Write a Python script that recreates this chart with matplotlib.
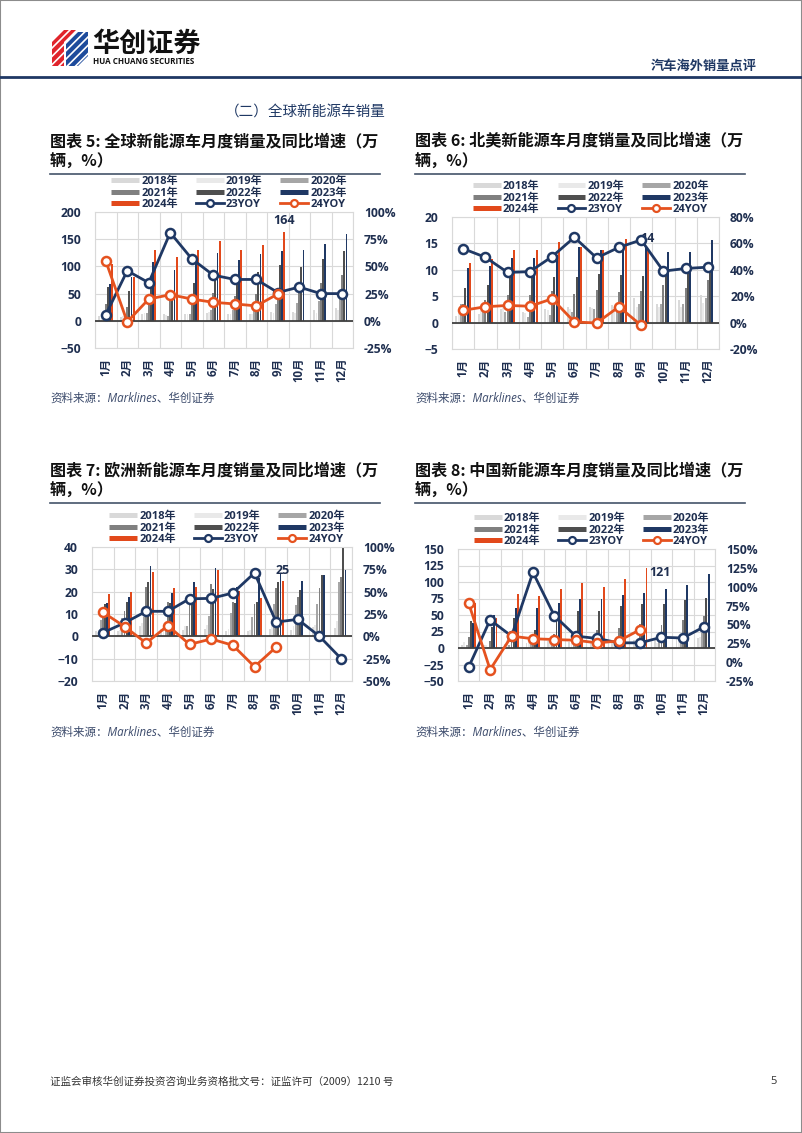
import numpy as np
import matplotlib.pyplot as plt
from matplotlib.lines import Line2D
from matplotlib.patches import Polygon, Rectangle

plt.rcParams['font.family'] = ['Open Sans', 'Noto Sans CJK SC', 'DejaVu Sans']
plt.rcParams['hatch.color'] = 'white'
plt.rcParams['hatch.linewidth'] = 1.2

# Data (万辆 and %)
months = ['1月', '2月', '3月', '4月', '5月', '6月', '7月', '8月', '9月', '10月', '11月', '12月']
years = ['2018年', '2019年', '2020年', '2021年', '2022年', '2023年', '2024年']

glb_sales = [
    [9, 7, 13, 12, 12, 14, 12, 13, 16, 16, 19, 23],
    [11, 8, 15, 10, 13, 17, 12, 13, 14, 14, 15, 20],
    [14, 10, 15, 9, 13, 19, 20, 22, 30, 32, 36, 47],
    [31, 26, 45, 38, 40, 52, 46, 50, 52, 62, 70, 84],
    [63, 55, 80, 52, 69, 87, 81, 89, 102, 99, 113, 128],
    [67, 80, 108, 94, 109, 124, 112, 123, 129, 130, 142, 160],
    [104, 80, 130, 117, 131, 146, 130, 140, 164],
]
glb_yoy23 = [5.5, 46, 35, 81, 57, 42, 38, 38, 26, 31, 25, 25]
glb_yoy24 = [55, -1, 20, 24, 20, 17, 15.5, 13.7, 24.6]

na_sales = [
    [1.2, 1.7, 2.6, 2.0, 2.6, 3.0, 3.0, 3.4, 4.6, 3.6, 4.2, 5.2],
    [2.0, 2.2, 2.9, 1.8, 2.4, 2.6, 2.7, 3.0, 3.0, 3.0, 3.0, 3.8],
    [3.6, 2.7, 2.0, 1.0, 1.5, 2.0, 2.6, 3.0, 3.6, 3.6, 3.6, 4.6],
    [3.6, 4.2, 5.3, 5.3, 6.0, 5.4, 6.2, 5.8, 6.0, 7.1, 6.6, 8.0],
    [6.6, 7.2, 8.8, 8.8, 8.6, 8.7, 9.2, 9.0, 8.8, 9.6, 9.5, 11.0],
    [10.3, 10.8, 12.2, 12.2, 12.8, 14.3, 13.7, 14.2, 14.2, 13.3, 13.4, 15.6],
    [11.2, 12.1, 13.8, 13.7, 15.2, 14.4, 13.7, 15.9, 14.0],
]
na_yoy23 = [56, 49.5, 38, 38.6, 50, 64.6, 49, 57, 62.6, 39, 41, 42]
na_yoy24 = [9.3, 12, 13, 12.4, 18, 0.5, -0.3, 12, -2]

eu_sales = [
    [2.5, 2.5, 4.5, 3.5, 3.0, 3.5, 2.5, 2.5, 3.5, 3.0, 4.0, 3.6],
    [3.0, 3.0, 6.0, 4.0, 4.5, 5.0, 3.5, 3.0, 5.0, 4.5, 5.0, 7.0],
    [7.5, 8.0, 8.5, 3.5, 4.5, 9.0, 10.5, 8.5, 14.5, 13.9, 14.5, 24.4],
    [12.5, 11.5, 22.0, 15.5, 15.0, 23.5, 15.5, 14.5, 21.8, 17.5, 21.5, 26.6],
    [14.3, 15.5, 24.3, 15.0, 17.2, 21.3, 15.0, 15.3, 24.4, 20.6, 27.4, 39.8],
    [15.0, 17.8, 31.3, 19.3, 24.5, 30.5, 22.3, 26.3, 28.1, 24.8, 27.4, 29.9],
    [19.0, 19.8, 29.0, 21.6, 22.3, 29.5, 20.2, 17.3, 24.7],
]
eu_yoy23 = [4, 15, 28, 28, 42, 42.5, 48.5, 71, 16, 19, 0, -25]
eu_yoy24 = [27, 11, -7.5, 12, -9, -3, -10, -34, -12]

cn_sales = [
    [4.0, 3.9, 6.8, 8.2, 10.2, 8.4, 8.4, 10.1, 12.1, 14.6, 17.0, 15.0],
    [9.6, 5.3, 12.6, 9.7, 10.4, 13.4, 8.0, 8.5, 8.0, 7.5, 9.5, 16.3],
    [4.4, 1.3, 5.3, 7.2, 8.2, 10.4, 9.8, 10.9, 13.8, 16.0, 20.0, 22.0],
    [17.3, 11.0, 19.0, 20.6, 21.7, 25.6, 27.1, 30.0, 35.7, 35.0, 42.0, 49.0],
    [40.6, 32.0, 45.4, 27.8, 42.1, 55.8, 56.3, 63.7, 66.9, 67.0, 72.7, 76.0],
    [38, 50, 61, 61, 68, 75, 74, 80, 84, 89, 96, 112],
    [68, 45, 82, 79, 89, 98, 93, 104, 121],
]
cn_yoy23 = [-6.4, 56, 34.5, 119, 61.5, 34.5, 31.4, 25.6, 25.6, 33, 32, 47]
cn_yoy24 = [78, -10, 34.5, 31, 30, 29, 25.6, 28, 43]

bar_colors = ['#d9d9d9', '#e9e9e9', '#a6a6a6', '#808080', '#4f4f4f', '#1f3864', '#e2491b']
navy = '#1f3864'
orange = '#e5521f'
txt = '#1f2f50'
grid_c = '#d9d9d9'

W, H = 802, 1133


def fx(x):
    return x / W


def fy(y):
    return 1 - y / H


fig = plt.figure(figsize=(W / 100, H / 100), dpi=100)

# page frame
fig.add_artist(Rectangle((0, 0), 1, 1, transform=fig.transFigure, fill=False,
                         edgecolor='#8c8c8c', lw=1.5))

# logo
red_pts = [(52, 42), (64, 30), (76, 30), (64, 42), (64, 66), (52, 66)]
blue_pts = [(66, 44), (78, 32), (88, 32), (88, 56), (78, 66), (66, 66)]
fig.add_artist(Polygon([(fx(a), fy(b)) for a, b in red_pts], closed=True,
                       transform=fig.transFigure, facecolor='#e0242b', edgecolor='white',
                       hatch='////', lw=0))
fig.add_artist(Polygon([(fx(a), fy(b)) for a, b in blue_pts], closed=True,
                       transform=fig.transFigure, facecolor='#1d4b9c', edgecolor='white',
                       hatch='////', lw=0))
fig.text(fx(92), fy(44), '华创证券', fontsize=19.5, fontweight='bold', color='#111111',
         family=['Noto Sans CJK SC'], va='center', ha='left')
fig.text(fx(93), fy(62), 'HUA CHUANG SECURITIES', fontsize=5.8, fontweight='bold',
         color='#111111', va='center', ha='left')
fig.text(fx(757), fy(66), '汽车海外销量点评', fontsize=9.5, fontweight='bold', color=navy,
         family=['Noto Sans CJK SC'], va='center', ha='right')
fig.add_artist(Line2D([0, 1], [fy(77), fy(77)], transform=fig.transFigure, color=navy, lw=2))

fig.text(fx(305), fy(112), '（二）全球新能源车销量', fontsize=10.5, color=navy,
         family=['Noto Sans CJK SC'], va='center', ha='center')

# footer
fig.text(fx(50), fy(1082), '证监会审核华创证券投资咨询业务资格批文号：证监许可（2009）1210 号',
         fontsize=7.6, color='#333333', family=['Noto Sans CJK SC'], va='center')
fig.text(fx(770), fy(1082), '5', fontsize=8, color='#333333', va='center')


def draw_chart(box, title_xy, title, sales, yoy23, yoy24, lticks, rticks, peak, peak_side,
               source_y):
    l, t, r, b = box
    tx, ty = title_xy
    fig.text(fx(tx), fy(ty), title, fontsize=11.6, fontweight='bold', color='#111111',
             family=['Noto Sans CJK SC'], va='center')
    fig.text(fx(tx), fy(ty + 21), '辆，%）', fontsize=11.6, fontweight='bold', color='#111111',
             family=['Noto Sans CJK SC'], va='center')
    fig.add_artist(Line2D([fx(tx), fx(tx + 330)], [fy(ty + 33), fy(ty + 33)],
                          transform=fig.transFigure, color='#44546a', lw=1.2))
    fig.text(fx(tx), fy(source_y), '资料来源：Marklines、华创证券', fontsize=8.3,
             style='italic', color='#3b4a6b', va='center')

    ax = fig.add_axes([fx(l), fy(b), (r - l) / W, (b - t) / H])
    x = np.arange(12)
    slot = 0.1
    handles = []
    for i, vals in enumerate(sales):
        xs = x[:len(vals)] + (i - 3) * slot
        ax.bar(xs, vals, width=0.088, color=bar_colors[i], zorder=2)
        handles.append(Line2D([], [], color=bar_colors[i], lw=3.6, solid_capstyle='butt',
                              label=years[i]))
    ax.set_xlim(-0.5, 11.5)
    ax.set_ylim(lticks[0], lticks[-1])
    ax.set_yticks(lticks)
    ax.set_xticks(x)
    ax.set_xticklabels(months, rotation=90)
    ax.set_xticks(np.arange(-0.5, 12, 1), minor=True)
    ax.set_axisbelow(True)
    ax.grid(which='minor', axis='x', color=grid_c, lw=0.8)
    ax.grid(which='major', axis='y', color=grid_c, lw=0.8)
    ax.grid(which='major', axis='x', visible=False)
    ax.axhline(0, color='#404040', lw=1.3, zorder=3)
    for s in ax.spines.values():
        s.set_color(grid_c)
        s.set_linewidth(0.8)
    ax.tick_params(axis='y', length=0, pad=10, labelsize=8.7, labelcolor=txt)
    ax.tick_params(axis='x', which='both', length=0, pad=7, labelsize=8.3, labelcolor=txt)
    for lbl in ax.get_xticklabels() + ax.get_yticklabels():
        lbl.set_fontweight('bold')

    # label on the latest month
    last = len(sales[6]) - 1
    if peak_side == 'top':
        ax.annotate(peak, xy=(last + 0.3, sales[6][last]), xytext=(0, 3),
                    textcoords='offset points', ha='center', va='bottom',
                    fontsize=9, fontweight='bold', color=txt)
    else:
        ax.annotate(peak, xy=(last + 0.3, sales[6][last]), xytext=(2, -3),
                    textcoords='offset points', ha='left', va='center',
                    fontsize=9, fontweight='bold', color=txt)

    ax2 = ax.twinx()
    ax2.plot(x, yoy23, color=navy, lw=2, marker='o', ms=6.5, mfc='white', mew=1.8, zorder=4)
    ax2.plot(x[:len(yoy24)], yoy24, color=orange, lw=2, marker='o', ms=6.5, mfc='white',
             mew=1.8, zorder=4)
    ax2.set_ylim(rticks[0], rticks[-1])
    ax2.set_yticks(rticks)
    ax2.set_yticklabels([f'{v}%' for v in rticks])
    for s in ax2.spines.values():
        s.set_visible(False)
    ax2.tick_params(axis='y', length=0, pad=8, labelsize=8.7, labelcolor=txt)
    for lbl in ax2.get_yticklabels():
        lbl.set_fontweight('bold')

    handles.append(Line2D([], [], color=navy, lw=2, marker='o', ms=5, mfc='white', mew=1.6,
                          label='23YOY'))
    handles.append(Line2D([], [], color=orange, lw=2, marker='o', ms=5, mfc='white', mew=1.6,
                          label='24YOY'))
    order = [0, 3, 6, 1, 4, 7, 2, 5, 8]
    leg = ax.legend([handles[k] for k in order], [handles[k].get_label() for k in order],
                    loc='lower center', bbox_to_anchor=(0.52, 1.0), ncol=3, frameon=False,
                    fontsize=8, handlelength=2.5, handletextpad=0.2, columnspacing=1.6,
                    labelspacing=0.05, borderaxespad=0.15, borderpad=0)
    for tt in leg.get_texts():
        tt.set_fontweight('bold')
        tt.set_color(txt)
    return ax


draw_chart((95, 212, 353, 348), (50, 141), '图表 5: 全球新能源车月度销量及同比增速（万',
           glb_sales, glb_yoy23, glb_yoy24, [-50, 0, 50, 100, 150, 200],
           [-25, 0, 25, 50, 75, 100], '164', 'top', 398)
draw_chart((452, 217, 719, 349), (415, 141), '图表 6: 北美新能源车月度销量及同比增速（万',
           na_sales, na_yoy23, na_yoy24, [-5, 0, 5, 10, 15, 20],
           [-20, 0, 20, 40, 60, 80], '14', 'top', 398)
draw_chart((92, 547, 352, 681), (50, 470), '图表 7: 欧洲新能源车月度销量及同比增速（万',
           eu_sales, eu_yoy23, eu_yoy24, [-20, -10, 0, 10, 20, 30, 40],
           [-50, -25, 0, 25, 50, 75, 100], '25', 'top', 732)
draw_chart((458, 549, 715, 681), (415, 470), '图表 8: 中国新能源车月度销量及同比增速（万',
           cn_sales, cn_yoy23, cn_yoy24, [-50, -25, 0, 25, 50, 75, 100, 125, 150],
           [-25, 0, 25, 50, 75, 100, 125, 150], '121', 'right', 732)

fig.savefig('out.png', dpi=100)
